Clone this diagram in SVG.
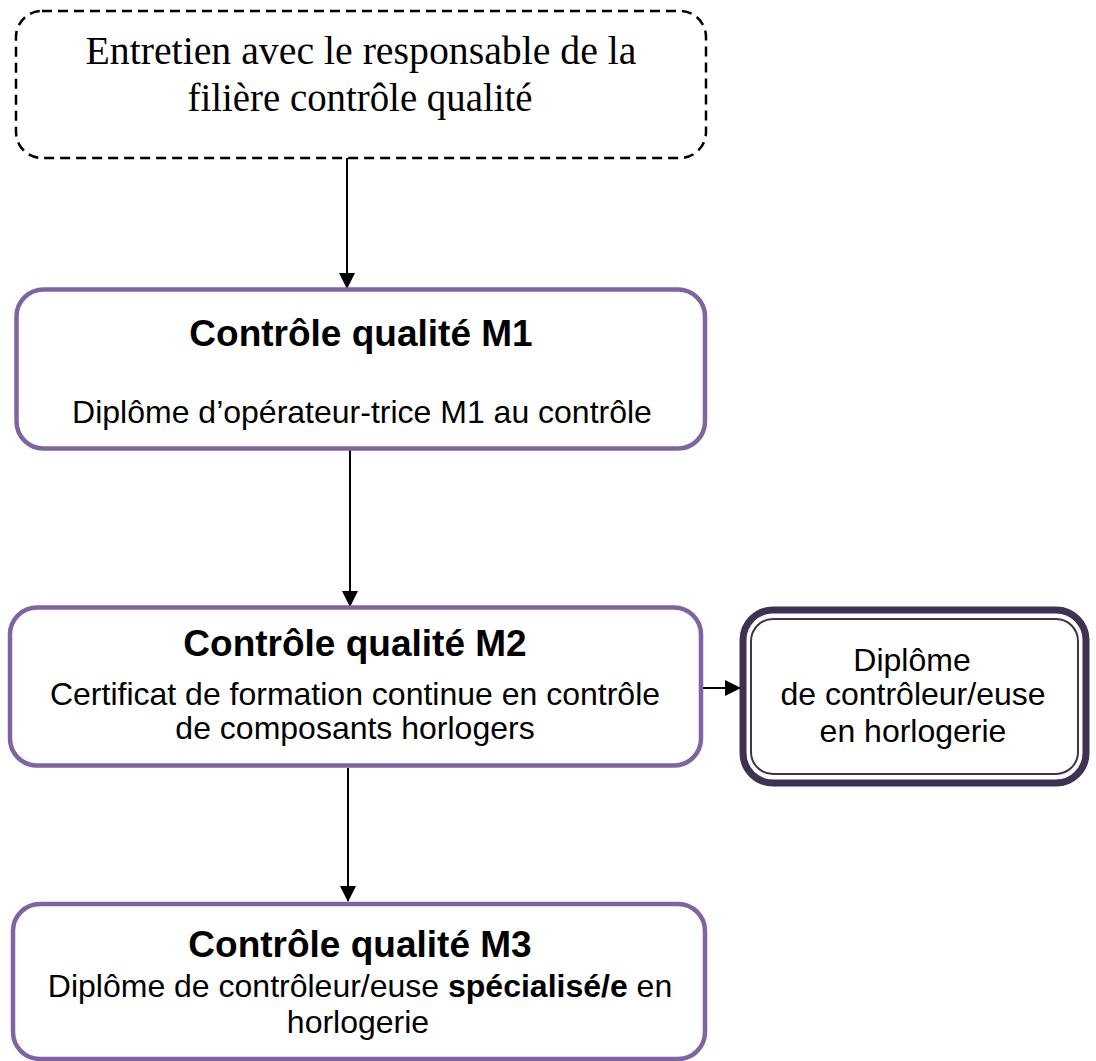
<svg xmlns="http://www.w3.org/2000/svg" width="1096" height="1061" viewBox="0 0 1096 1061">
<style>
.box{fill:#fff;stroke:#8064A2;stroke-width:4.5}
.dash{fill:#fff;stroke:#000;stroke-width:2.5;stroke-dasharray:10,6}
.t{font-family:"Liberation Sans",Arial,sans-serif;font-weight:bold;font-size:37px;text-anchor:middle;fill:#000}
.s{font-family:"Liberation Sans",Arial,sans-serif;font-size:32px;text-anchor:middle;fill:#000}
.serif{font-family:"Liberation Serif","Times New Roman",serif;font-size:41px;text-anchor:middle;fill:#000}
.c{stroke:#000;stroke-width:2;fill:none}
</style>
<defs>
<marker id="ah" markerWidth="16" markerHeight="16" refX="15" refY="8" orient="auto" markerUnits="userSpaceOnUse">
<path d="M0,0 L16,8 L0,16 Z" fill="#000"/>
</marker>
</defs>
<rect width="1096" height="1061" fill="#fff"/>
<g id="connectors">
<line class="c" x1="347" y1="158" x2="347" y2="288" marker-end="url(#ah)"/>
<line class="c" x1="350" y1="450" x2="350" y2="606" marker-end="url(#ah)"/>
<line class="c" x1="348" y1="768" x2="348" y2="901" marker-end="url(#ah)"/>
<line class="c" x1="703" y1="688" x2="740" y2="688" marker-end="url(#ah)"/>
</g>
<g id="entretien">
<rect class="dash" x="16" y="11" width="690" height="147" rx="26"/>
<text class="serif" x="361" y="64" textLength="551" lengthAdjust="spacingAndGlyphs">Entretien avec le responsable de la</text>
<text class="serif" x="360" y="111" textLength="345" lengthAdjust="spacingAndGlyphs">filière contrôle qualité</text>
</g>
<g id="m1">
<rect class="box" x="16.5" y="289.5" width="688.5" height="159" rx="27"/>
<text class="t" x="361" y="346">Contrôle qualité M1</text>
<text class="s" x="362" y="423">Diplôme d’opérateur-trice M1 au contrôle</text>
</g>
<g id="m2">
<rect class="box" x="10" y="607.5" width="691" height="158" rx="27"/>
<text class="t" x="355" y="656">Contrôle qualité M2</text>
<text class="s" x="355" y="705">Certificat de formation continue en contrôle</text>
<text class="s" x="355" y="739">de composants horlogers</text>
</g>
<g id="diplome">
<rect x="743" y="610" width="343" height="173" rx="30" fill="#fff" stroke="#3F3151" stroke-width="7"/>
<rect x="751" y="619" width="327" height="155" rx="22" fill="none" stroke="#3F3151" stroke-width="2"/>
<text class="s" x="912" y="671">Diplôme</text>
<text class="s" x="913" y="705">de contrôleur/euse</text>
<text class="s" x="913" y="742">en horlogerie</text>
</g>
<g id="m3">
<rect class="box" x="13" y="904" width="692" height="155" rx="27"/>
<text class="t" x="360" y="957">Contrôle qualité M3</text>
<text class="s" x="360" y="997">Diplôme de contrôleur/euse <tspan font-weight="bold">spécialisé/e</tspan> en</text>
<text class="s" x="358" y="1033">horlogerie</text>
</g>
</svg>
